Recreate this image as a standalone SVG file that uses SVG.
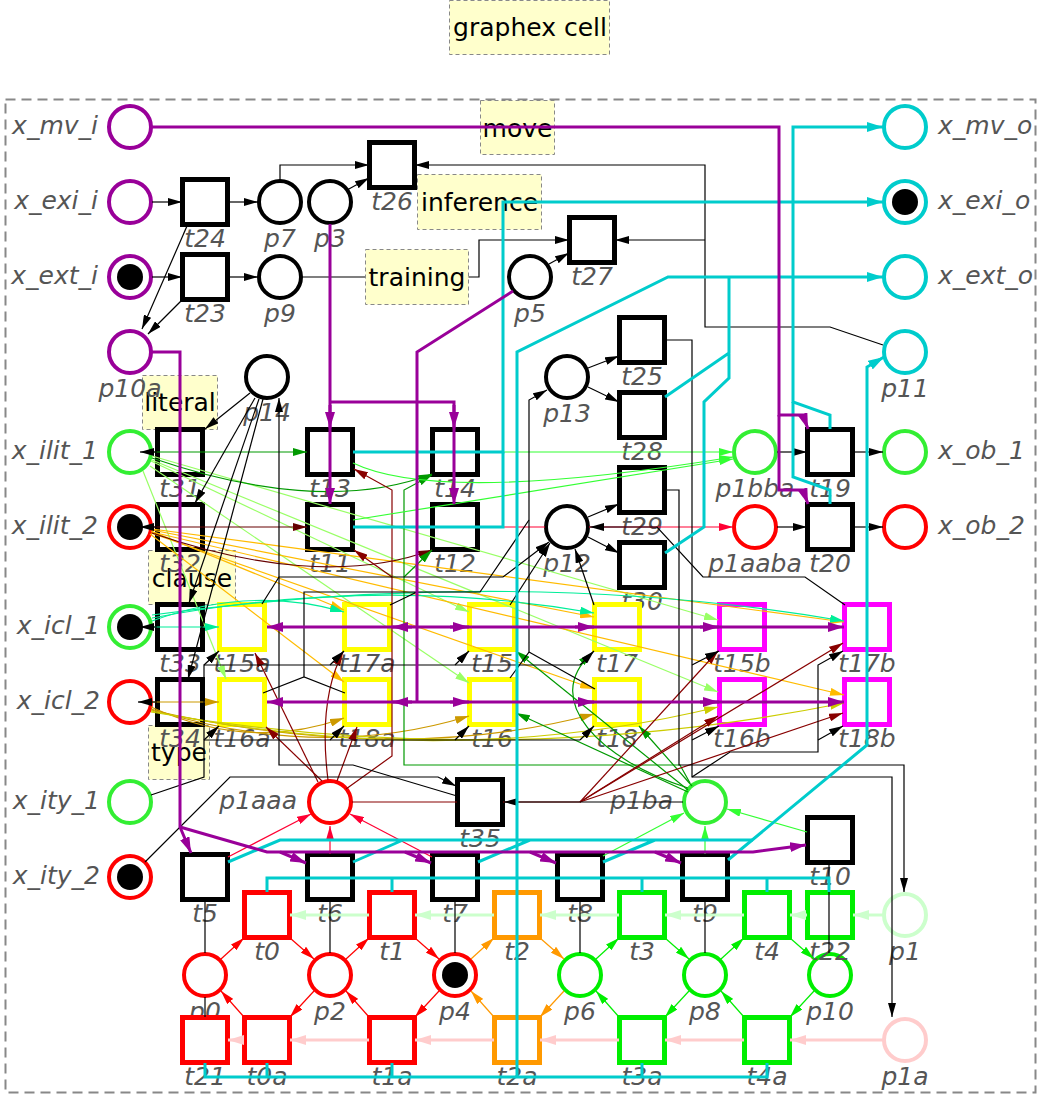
<svg xmlns="http://www.w3.org/2000/svg" width="1041" height="1099" viewBox="0 0 1041 1099">
<style>
.p{fill:#fff;stroke-width:4}
.t{fill:#fff;stroke-width:5}
.tok{fill:#000}
.l{font-family:"DejaVu Sans",sans-serif;font-style:italic;font-size:25px;fill:#555;text-anchor:middle}
.le{text-anchor:end}.ls{text-anchor:start}
.nb rect{fill:#ffffcc;stroke:#888;stroke-width:1;stroke-dasharray:4,3}
.nb text{font-family:"DejaVu Sans",sans-serif;font-size:25px;fill:#000;text-anchor:middle}
.sk{stroke:#000}.spu{stroke:#990099}.scy{stroke:#00cccc}.sgr{stroke:#33ee33}.srd{stroke:#f00}.sg2{stroke:#00ee00}.sor{stroke:#ff9900}.sye{stroke:#ff0}.smg{stroke:#f0f}.spg{stroke:#ccffcc}.spk{stroke:#ffcccc}
#edges path{fill:none;stroke-width:1.2}
#edges .w{stroke-width:3}
.k{stroke:#000;marker-end:url(#mk)}
.pu{stroke:#990099;marker-end:url(#mpu)}
.cy{stroke:#00cccc;marker-end:url(#mcy)}
.dg{stroke:#009900;marker-end:url(#mdg)}
.dr{stroke:#880000;marker-end:url(#mdr)}
.br{stroke:#660000;marker-end:url(#mbr)}
.lg{stroke:#99ff66;marker-end:url(#mlg)}
.or{stroke:#ffbb00;marker-end:url(#mor)}
.te{stroke:#00ee99;marker-end:url(#mte)}
.go{stroke:#cc9900;marker-end:url(#mgo)}
.yl{stroke:#cccc00;marker-end:url(#myl)}
.bg{stroke:#33ff33;marker-end:url(#mbg)}
.cr{stroke:#ff0033;marker-end:url(#mcr)}
.rd{stroke:#ff0000;marker-end:url(#mrd)}
.g2{stroke:#00ee00;marker-end:url(#mg2)}
.o{stroke:#ff9900;marker-end:url(#mo)}
.pg{stroke:#ccffcc;marker-end:url(#mpg)}
.pk{stroke:#ffcccc;marker-end:url(#mpk)}
.na{marker-end:none}
</style>
<defs>
<marker id="mk" viewBox="0 0 14 8" refX="14" refY="4" markerWidth="14" markerHeight="8" markerUnits="userSpaceOnUse" orient="auto"><path d="M0,0L14,4L0,8z" fill="#000"/></marker>
<marker id="mpu" viewBox="0 0 16 10" refX="16" refY="5" markerWidth="16" markerHeight="10" markerUnits="userSpaceOnUse" orient="auto"><path d="M0,0L16,5L0,10z" fill="#990099"/></marker>
<marker id="mcy" viewBox="0 0 16 10" refX="16" refY="5" markerWidth="16" markerHeight="10" markerUnits="userSpaceOnUse" orient="auto"><path d="M0,0L16,5L0,10z" fill="#00cccc"/></marker>
<marker id="mdg" viewBox="0 0 14 8" refX="14" refY="4" markerWidth="14" markerHeight="8" markerUnits="userSpaceOnUse" orient="auto"><path d="M0,0L14,4L0,8z" fill="#009900"/></marker>
<marker id="mdr" viewBox="0 0 14 8" refX="14" refY="4" markerWidth="14" markerHeight="8" markerUnits="userSpaceOnUse" orient="auto"><path d="M0,0L14,4L0,8z" fill="#880000"/></marker>
<marker id="mbr" viewBox="0 0 14 8" refX="14" refY="4" markerWidth="14" markerHeight="8" markerUnits="userSpaceOnUse" orient="auto"><path d="M0,0L14,4L0,8z" fill="#660000"/></marker>
<marker id="mlg" viewBox="0 0 14 8" refX="14" refY="4" markerWidth="14" markerHeight="8" markerUnits="userSpaceOnUse" orient="auto"><path d="M0,0L14,4L0,8z" fill="#99ff66"/></marker>
<marker id="mor" viewBox="0 0 14 8" refX="14" refY="4" markerWidth="14" markerHeight="8" markerUnits="userSpaceOnUse" orient="auto"><path d="M0,0L14,4L0,8z" fill="#ffbb00"/></marker>
<marker id="mte" viewBox="0 0 14 8" refX="14" refY="4" markerWidth="14" markerHeight="8" markerUnits="userSpaceOnUse" orient="auto"><path d="M0,0L14,4L0,8z" fill="#00ee99"/></marker>
<marker id="mgo" viewBox="0 0 14 8" refX="14" refY="4" markerWidth="14" markerHeight="8" markerUnits="userSpaceOnUse" orient="auto"><path d="M0,0L14,4L0,8z" fill="#cc9900"/></marker>
<marker id="myl" viewBox="0 0 14 8" refX="14" refY="4" markerWidth="14" markerHeight="8" markerUnits="userSpaceOnUse" orient="auto"><path d="M0,0L14,4L0,8z" fill="#cccc00"/></marker>
<marker id="mbg" viewBox="0 0 14 8" refX="14" refY="4" markerWidth="14" markerHeight="8" markerUnits="userSpaceOnUse" orient="auto"><path d="M0,0L14,4L0,8z" fill="#33ff33"/></marker>
<marker id="mcr" viewBox="0 0 14 8" refX="14" refY="4" markerWidth="14" markerHeight="8" markerUnits="userSpaceOnUse" orient="auto"><path d="M0,0L14,4L0,8z" fill="#ff0033"/></marker>
<marker id="mrd" viewBox="0 0 14 8" refX="14" refY="4" markerWidth="14" markerHeight="8" markerUnits="userSpaceOnUse" orient="auto"><path d="M0,0L14,4L0,8z" fill="#ff0000"/></marker>
<marker id="mg2" viewBox="0 0 14 8" refX="14" refY="4" markerWidth="14" markerHeight="8" markerUnits="userSpaceOnUse" orient="auto"><path d="M0,0L14,4L0,8z" fill="#00ee00"/></marker>
<marker id="mo" viewBox="0 0 14 8" refX="14" refY="4" markerWidth="14" markerHeight="8" markerUnits="userSpaceOnUse" orient="auto"><path d="M0,0L14,4L0,8z" fill="#ff9900"/></marker>
<marker id="mpg" viewBox="0 0 16 10" refX="16" refY="5" markerWidth="16" markerHeight="10" markerUnits="userSpaceOnUse" orient="auto"><path d="M0,0L16,5L0,10z" fill="#ccffcc"/></marker>
<marker id="mpk" viewBox="0 0 16 10" refX="16" refY="5" markerWidth="16" markerHeight="10" markerUnits="userSpaceOnUse" orient="auto"><path d="M0,0L16,5L0,10z" fill="#ffcccc"/></marker>
</defs>
<rect width="1041" height="1099" fill="#fff"/>
<rect x="5.5" y="99.5" width="1030" height="993" fill="none" stroke="#888" stroke-width="2" stroke-dasharray="10,6"/>
<g class="nb" id="note_graphex"><rect x="449.5" y="0.5" width="160" height="54"/><text x="530" y="36">graphex cell</text></g>
<g class="nb" id="note_move"><rect x="480.5" y="100.5" width="74" height="54"/><text x="517.5" y="137">move</text></g>
<g class="nb" id="note_inference"><rect x="417.5" y="174.5" width="124" height="55"/><text x="479.5" y="211">inference</text></g>
<g class="nb" id="note_literal"><rect x="142.5" y="375.5" width="75" height="54"/><text x="180" y="411">literal</text></g>
<g class="nb" id="note_clause"><rect x="148.5" y="550.5" width="87" height="54"/><text x="192" y="587">clause</text></g>
<g class="nb" id="note_type"><rect x="148.5" y="725.5" width="61" height="54"/><text x="179" y="761">type</text></g>

<g id="nodes">
<g id="x_mv_i"><circle class="p spu" cx="130" cy="127" r="21"/><text class="l le" x="98" y="134">x_mv_i</text></g>
<g id="x_exi_i"><circle class="p spu" cx="130" cy="202" r="21"/><text class="l le" x="98" y="209">x_exi_i</text></g>
<g id="x_ext_i"><circle class="p spu" cx="130" cy="277" r="21"/><circle class="tok" cx="130" cy="277" r="13"/><text class="l le" x="98" y="284">x_ext_i</text></g>
<g id="p10a"><circle class="p spu" cx="130" cy="352" r="21"/><text class="l" x="130" y="397">p10a</text></g>
<g id="x_ilit_1"><circle class="p sgr" cx="130" cy="452" r="21"/><text class="l le" x="98" y="459">x_ilit_1</text></g>
<g id="x_ilit_2"><circle class="p srd" cx="130" cy="527" r="21"/><circle class="tok" cx="130" cy="527" r="13"/><text class="l le" x="98" y="534">x_ilit_2</text></g>
<g id="x_icl_1"><circle class="p sgr" cx="130" cy="627" r="21"/><circle class="tok" cx="130" cy="627" r="13"/><text class="l le" x="100" y="634">x_icl_1</text></g>
<g id="x_icl_2"><circle class="p srd" cx="130" cy="702" r="21"/><text class="l le" x="100" y="709">x_icl_2</text></g>
<g id="x_ity_1"><circle class="p sgr" cx="130" cy="802" r="21"/><text class="l le" x="100" y="809">x_ity_1</text></g>
<g id="x_ity_2"><circle class="p srd" cx="130" cy="877" r="21"/><circle class="tok" cx="130" cy="877" r="13"/><text class="l le" x="100" y="884">x_ity_2</text></g>
<g id="p7"><circle class="p sk" cx="280" cy="202" r="21"/><text class="l" x="280" y="247">p7</text></g>
<g id="p3"><circle class="p sk" cx="330" cy="202" r="21"/><text class="l" x="330" y="247">p3</text></g>
<g id="p9"><circle class="p sk" cx="280" cy="277" r="21"/><text class="l" x="280" y="322">p9</text></g>
<g id="p14"><circle class="p sk" cx="267" cy="377" r="21"/><text class="l" x="267" y="421">p14</text></g>
<g id="p5"><circle class="p sk" cx="530" cy="277" r="21"/><text class="l" x="530" y="322">p5</text></g>
<g id="p13"><circle class="p sk" cx="567" cy="377" r="21"/><text class="l" x="567" y="422">p13</text></g>
<g id="p12"><circle class="p sk" cx="567" cy="527" r="21"/><text class="l" x="567" y="572">p12</text></g>
<g id="x_mv_o"><circle class="p scy" cx="905" cy="127" r="21"/><text class="l ls" x="938" y="134">x_mv_o</text></g>
<g id="x_exi_o"><circle class="p scy" cx="905" cy="202" r="21"/><circle class="tok" cx="905" cy="202" r="13"/><text class="l ls" x="938" y="209">x_exi_o</text></g>
<g id="x_ext_o"><circle class="p scy" cx="905" cy="277" r="21"/><text class="l ls" x="938" y="284">x_ext_o</text></g>
<g id="p11"><circle class="p scy" cx="905" cy="352" r="21"/><text class="l" x="905" y="397">p11</text></g>
<g id="p1bba"><circle class="p sgr" cx="755" cy="452" r="21"/><text class="l" x="755" y="497">p1bba</text></g>
<g id="p1aaba"><circle class="p srd" cx="755" cy="527" r="21"/><text class="l" x="755" y="572">p1aaba</text></g>
<g id="x_ob_1"><circle class="p sgr" cx="905" cy="452" r="21"/><text class="l ls" x="938" y="459">x_ob_1</text></g>
<g id="x_ob_2"><circle class="p srd" cx="905" cy="527" r="21"/><text class="l ls" x="938" y="534">x_ob_2</text></g>
<g id="p1aaa"><circle class="p srd" cx="330" cy="802" r="21"/><text class="l le" x="297" y="809">p1aaa</text></g>
<g id="p1ba"><circle class="p sgr" cx="705" cy="802" r="21"/><text class="l le" x="673" y="809">p1ba</text></g>
<g id="p0"><circle class="p srd" cx="205" cy="975" r="21"/><text class="l" x="205" y="1020">p0</text></g>
<g id="p2"><circle class="p srd" cx="330" cy="975" r="21"/><text class="l" x="330" y="1020">p2</text></g>
<g id="p4"><circle class="p srd" cx="455" cy="975" r="21"/><circle class="tok" cx="455" cy="975" r="13"/><text class="l" x="455" y="1020">p4</text></g>
<g id="p6"><circle class="p sg2" cx="580" cy="975" r="21"/><text class="l" x="580" y="1020">p6</text></g>
<g id="p8"><circle class="p sg2" cx="705" cy="975" r="21"/><text class="l" x="705" y="1020">p8</text></g>
<g id="p10"><circle class="p sg2" cx="830" cy="975" r="21"/><text class="l" x="830" y="1020">p10</text></g>
<g id="p1"><circle class="p spg" cx="905" cy="915" r="21"/><text class="l" x="905" y="960">p1</text></g>
<g id="p1a"><circle class="p spk" cx="905" cy="1040" r="21"/><text class="l" x="905" y="1085">p1a</text></g>

<g id="t26"><rect class="t sk" x="369.5" y="142.5" width="45" height="45"/><text class="l" x="392" y="210">t26</text></g>
<g id="t24"><rect class="t sk" x="182.5" y="179.5" width="45" height="45"/><text class="l" x="205" y="247">t24</text></g>
<g id="t23"><rect class="t sk" x="182.5" y="254.5" width="45" height="45"/><text class="l" x="205" y="322">t23</text></g>
<g id="t27"><rect class="t sk" x="569.5" y="217.5" width="45" height="45"/><text class="l" x="592" y="285">t27</text></g>
<g id="t25"><rect class="t sk" x="619.5" y="317.5" width="45" height="45"/><text class="l" x="642" y="385">t25</text></g>
<g id="t28"><rect class="t sk" x="619.5" y="392.5" width="45" height="45"/><text class="l" x="642" y="460">t28</text></g>
<g id="t29"><rect class="t sk" x="619.5" y="467.5" width="45" height="45"/><text class="l" x="642" y="535">t29</text></g>
<g id="t30"><rect class="t sk" x="619.5" y="542.5" width="45" height="45"/><text class="l" x="642" y="610">t30</text></g>
<g id="t31"><rect class="t sk" x="157.5" y="429.5" width="45" height="45"/><text class="l" x="180" y="497">t31</text></g>
<g id="t32"><rect class="t sk" x="157.5" y="504.5" width="45" height="45"/><text class="l" x="180" y="572">t32</text></g>
<g id="t33"><rect class="t sk" x="157.5" y="604.5" width="45" height="45"/><text class="l" x="180" y="672">t33</text></g>
<g id="t34"><rect class="t sk" x="157.5" y="679.5" width="45" height="45"/><text class="l" x="180" y="747">t34</text></g>
<g id="t13"><rect class="t sk" x="307.5" y="429.5" width="45" height="45"/><text class="l" x="330" y="497">t13</text></g>
<g id="t14"><rect class="t sk" x="432.5" y="429.5" width="45" height="45"/><text class="l" x="455" y="497">t14</text></g>
<g id="t11"><rect class="t sk" x="307.5" y="504.5" width="45" height="45"/><text class="l" x="330" y="572">t11</text></g>
<g id="t12"><rect class="t sk" x="432.5" y="504.5" width="45" height="45"/><text class="l" x="455" y="572">t12</text></g>
<g id="t19"><rect class="t sk" x="807.5" y="429.5" width="45" height="45"/><text class="l" x="830" y="497">t19</text></g>
<g id="t20"><rect class="t sk" x="807.5" y="504.5" width="45" height="45"/><text class="l" x="830" y="572">t20</text></g>
<g id="t15a"><rect class="t sye" x="219.5" y="604.5" width="45" height="45"/><text class="l" x="242" y="672">t15a</text></g>
<g id="t17a"><rect class="t sye" x="344.5" y="604.5" width="45" height="45"/><text class="l" x="367" y="672">t17a</text></g>
<g id="t15"><rect class="t sye" x="469.5" y="604.5" width="45" height="45"/><text class="l" x="492" y="672">t15</text></g>
<g id="t17"><rect class="t sye" x="594.5" y="604.5" width="45" height="45"/><text class="l" x="617" y="672">t17</text></g>
<g id="t15b"><rect class="t smg" x="719.5" y="604.5" width="45" height="45"/><text class="l" x="742" y="672">t15b</text></g>
<g id="t17b"><rect class="t smg" x="844.5" y="604.5" width="45" height="45"/><text class="l" x="867" y="672">t17b</text></g>
<g id="t16a"><rect class="t sye" x="219.5" y="679.5" width="45" height="45"/><text class="l" x="242" y="747">t16a</text></g>
<g id="t18a"><rect class="t sye" x="344.5" y="679.5" width="45" height="45"/><text class="l" x="367" y="747">t18a</text></g>
<g id="t16"><rect class="t sye" x="469.5" y="679.5" width="45" height="45"/><text class="l" x="492" y="747">t16</text></g>
<g id="t18"><rect class="t sye" x="594.5" y="679.5" width="45" height="45"/><text class="l" x="617" y="747">t18</text></g>
<g id="t16b"><rect class="t smg" x="719.5" y="679.5" width="45" height="45"/><text class="l" x="742" y="747">t16b</text></g>
<g id="t18b"><rect class="t smg" x="844.5" y="679.5" width="45" height="45"/><text class="l" x="867" y="747">t18b</text></g>
<g id="t35"><rect class="t sk" x="457.5" y="779.5" width="45" height="45"/><text class="l" x="480" y="847">t35</text></g>
<g id="t10"><rect class="t sk" x="807.5" y="817.5" width="45" height="45"/><text class="l" x="830" y="885">t10</text></g>
<g id="t5"><rect class="t sk" x="182.5" y="854.5" width="45" height="45"/><text class="l" x="205" y="922">t5</text></g>
<g id="t6"><rect class="t sk" x="307.5" y="854.5" width="45" height="45"/><text class="l" x="330" y="922">t6</text></g>
<g id="t7"><rect class="t sk" x="432.5" y="854.5" width="45" height="45"/><text class="l" x="455" y="922">t7</text></g>
<g id="t8"><rect class="t sk" x="557.5" y="854.5" width="45" height="45"/><text class="l" x="580" y="922">t8</text></g>
<g id="t9"><rect class="t sk" x="682.5" y="854.5" width="45" height="45"/><text class="l" x="705" y="922">t9</text></g>
<g id="t0"><rect class="t srd" x="244.5" y="892.5" width="45" height="45"/><text class="l" x="267" y="960">t0</text></g>
<g id="t1"><rect class="t srd" x="369.5" y="892.5" width="45" height="45"/><text class="l" x="392" y="960">t1</text></g>
<g id="t2"><rect class="t sor" x="494.5" y="892.5" width="45" height="45"/><text class="l" x="517" y="960">t2</text></g>
<g id="t3"><rect class="t sg2" x="619.5" y="892.5" width="45" height="45"/><text class="l" x="642" y="960">t3</text></g>
<g id="t4"><rect class="t sg2" x="744.5" y="892.5" width="45" height="45"/><text class="l" x="767" y="960">t4</text></g>
<g id="t22"><rect class="t sg2" x="807.5" y="892.5" width="45" height="45"/><text class="l" x="830" y="960">t22</text></g>
<g id="t21"><rect class="t srd" x="182.5" y="1017.5" width="45" height="45"/><text class="l" x="205" y="1085">t21</text></g>
<g id="t0a"><rect class="t srd" x="244.5" y="1017.5" width="45" height="45"/><text class="l" x="267" y="1085">t0a</text></g>
<g id="t1a"><rect class="t srd" x="369.5" y="1017.5" width="45" height="45"/><text class="l" x="392" y="1085">t1a</text></g>
<g id="t2a"><rect class="t sor" x="494.5" y="1017.5" width="45" height="45"/><text class="l" x="517" y="1085">t2a</text></g>
<g id="t3a"><rect class="t sg2" x="619.5" y="1017.5" width="45" height="45"/><text class="l" x="642" y="1085">t3a</text></g>
<g id="t4a"><rect class="t sg2" x="744.5" y="1017.5" width="45" height="45"/><text class="l" x="767" y="1085">t4a</text></g>
</g>

<g id="edges">
<path class="pg w" d="M883,915H853"/><path class="pg w" d="M807,915H790"/><path class="pg w" d="M744,915H665"/><path class="pg w" d="M619,915H540"/><path class="pg w" d="M494,915H415"/><path class="pg w" d="M369,915H290"/>
<path class="pk w" d="M883,1040H790"/><path class="pk w" d="M744,1040H665"/><path class="pk w" d="M619,1040H540"/><path class="pk w" d="M494,1040H415"/><path class="pk w" d="M369,1040H290"/><path class="pk w" d="M244,1040H228"/>
<path class="rd" d="M221,959L244,938"/><path class="rd" d="M290,938L314,959"/><path class="rd" d="M346,959L369,938"/><path class="rd" d="M415,938L439,959"/>
<path class="rd" d="M244,1017L221,991"/><path class="rd" d="M314,991L290,1017"/><path class="rd" d="M369,1017L346,991"/><path class="rd" d="M439,991L415,1017"/>
<path class="o" d="M471,959L494,938"/><path class="o" d="M540,938L564,959"/><path class="o" d="M494,1017L471,991"/><path class="o" d="M564,991L540,1017"/>
<path class="g2" d="M596,959L619,938"/><path class="g2" d="M665,938L689,959"/><path class="g2" d="M721,959L744,938"/><path class="g2" d="M790,938L814,959"/>
<path class="g2" d="M619,1017L596,991"/><path class="g2" d="M689,991L665,1017"/><path class="g2" d="M744,1017L721,991"/><path class="g2" d="M814,991L790,1017"/>
<path class="k na" d="M205,900V953M205,997V1017M330,900V953M455,900V953M580,900V953M705,900V953M829,863V953"/>
<path class="lg" d="M143,471L226,679"/><path class="lg" d="M151,461L469,612"/><path class="lg" d="M150,466L469,683"/><path class="lg" d="M152,456L718,620"/><path class="lg" d="M152,460L718,692"/>
<path class="or" d="M151,531L344,610"/><path class="or" d="M150,534L344,682"/><path class="or" d="M152,530L594,617"/><path class="or" d="M151,533L594,689"/><path class="or" d="M152,529L844,622"/><path class="or" d="M152,532L844,695"/>
<path class="te" d="M152,627H219"/><path class="te" d="M152,621Q250,585 344,612"/><path class="te" d="M152,618Q380,575 594,613"/><path class="te" d="M152,615Q520,565 844,621"/>
<path class="go" d="M152,702H219"/><path class="go" d="M151,707Q250,752 344,718"/><path class="go" d="M151,709Q320,762 469,716"/><path class="go" d="M151,710Q400,766 594,714"/><path class="yl" d="M151,711Q450,772 718,707"/><path class="yl" d="M151,712Q500,772 844,703"/>
<path class="dg" d="M152,452H307"/><path class="dg" d="M152,458C250,492 350,505 432,474"/>
<path class="br" d="M152,527H307"/><path class="br" d="M152,533C250,567 350,580 432,550"/>
<path class="dg" d="M690,783L680,765H404V490L432,475"/><path class="dg" d="M404,577L432,550"/>
<path class="dg" d="M688,790L516,651"/><path class="dg" d="M688,792L516,713"/><path class="dg" d="M688,788C600,760 540,700 592,653"/><path class="dg" d="M692,786L639,726"/>
<path class="dr na" d="M352,802H457M503,802H580"/>
<path class="dr" d="M580,802L718,651"/><path class="dr" d="M580,802L718,716"/><path class="dr" d="M580,802L843,643"/><path class="dr" d="M580,802L843,713"/>
<path class="dr" d="M318,782L255,653"/><path class="dr" d="M322,781L266,727"/><path class="dr" d="M328,780Q318,700 343,652"/><path class="dr" d="M337,781L357,727"/>
<path class="dr" d="M346,789L392,756V490L354,469"/><path class="dr" d="M392,577L354,550"/>
<path class="bg" d="M353,452H733"/><path class="bg" d="M353,463Q440,505 733,457"/><path class="bg" d="M353,520L733,459"/>
<path class="bg" d="M603,856L684,813"/><path class="bg" d="M705,854V826"/><path class="bg" d="M807,832L727,809"/>
<path class="cr na" d="M478,527H545"/><path class="cr" d="M589,527H733"/>
<path class="cr" d="M228,857L311,814"/><path class="cr" d="M330,854V826"/><path class="cr" d="M432,857L350,814"/>
<path class="k" d="M152,202H182"/><path class="k" d="M228,202H258"/><path class="k" d="M152,277H182"/><path class="k" d="M228,277H258"/>
<path class="k" d="M187,226L142,329"/><path class="k" d="M182,300L148,334"/>
<path class="k" d="M280,180V165H369"/><path class="k" d="M347,190L369,178"/>
<path class="k" d="M883,345L830,327H705V165H415"/><path class="k" d="M705,240H615"/>
<path class="k" d="M302,277H479V240H569"/><path class="k" d="M549,264L569,253"/>
<path class="k" d="M250,393L205,429"/><path class="k" d="M255,398L195,503"/><path class="k" d="M259,399L189,603"/><path class="k" d="M263,399L188,679"/>
<path class="k" d="M157,452H140"/><path class="k" d="M157,527H140"/><path class="k" d="M157,627H140"/><path class="k" d="M157,702H138"/>
<path class="k" d="M588,368L619,356"/><path class="k" d="M588,387L619,402"/><path class="k" d="M588,517L619,504"/><path class="k" d="M588,537L619,553"/>
<path class="k" d="M457,796L353,765H279V398"/>
<path class="k" d="M145,862L230,777H438L456,786"/>
<path class="k na" d="M151,795L204,777V665H580M204,740H580"/>
<path class="k" d="M204,665L219,651"/><path class="k" d="M330,665L344,651"/><path class="k" d="M455,665L469,651"/><path class="k" d="M580,665L594,651"/>
<path class="k" d="M204,740L219,726"/><path class="k" d="M330,740L344,726"/><path class="k" d="M455,740L469,726"/><path class="k" d="M580,740L594,726"/>
<path class="k" d="M262,604L279,577H503L549,542"/>
<path class="k na" d="M263,693L304,677L345,693M304,677V592H480L529,520M390,605L417,592"/>
<path class="k" d="M510,678L529,652V400L547,390"/><path class="k na" d="M595,689L529,652"/>
<path class="k" d="M510,605L550,543"/><path class="k" d="M594,605L575,549"/>
<path class="k" d="M845,605L805,577H703L657,527H590"/>
<path class="k" d="M665,340H692V777H892V1017"/><path class="k" d="M692,665L719,651"/><path class="k" d="M692,740L719,726"/>
<path class="k" d="M692,777L730,752H818V665L843,651"/><path class="k" d="M818,740L843,726"/>
<path class="k" d="M665,490H679V765H904V892"/>
<path class="k" d="M683,802H504"/>
<path class="k" d="M777,452H807"/><path class="k" d="M853,452H883"/><path class="k" d="M777,527H807"/><path class="k" d="M853,527H883"/>
<path class="cy w" d="M830,429V415L793,402V127H883"/><path class="cy w na" d="M830,504V490L793,477V402"/>
<path class="cy w" d="M353,452H503V202H883"/><path class="cy w na" d="M353,527H503V452"/>
<path class="cy w na" d="M665,397L729,353V277M665,553L704,527V402L729,378V353"/>
<path class="cy w" d="M517,1077V352L668,277H883"/>
<path class="cy w na" d="M205,1063V1077H767V1063M267,1063V1077M392,1063V1077M642,1063V1077"/>
<path class="cy w na" d="M267,892V878H829V892M392,892V878M642,892V878M767,892V878"/>
<path class="cy w na" d="M228,862L280,840H753M353,862L403,840M478,862L530,840M603,862L655,840"/>
<path class="cy w" d="M728,860L867,745V367L884,357"/>
<path class="pu w" d="M152,127H779V415H803L808,429"/><path class="pu w" d="M779,415V490H803L808,504"/>
<path class="pu w" d="M330,224V504"/><path class="pu w" d="M330,405V428"/>
<path class="pu w" d="M330,402H454V504"/><path class="pu w" d="M454,405V428"/>
<path class="pu w na" d="M513,291L417,352V702"/>
<path class="pu w" d="M417,627H267"/><path class="pu w" d="M412,627H392"/><path class="pu w" d="M417,627H844"/>
<path class="pu w" d="M450,627H469"/><path class="pu w" d="M575,627H594"/><path class="pu w" d="M700,627H719"/>
<path class="pu w" d="M417,702H267"/><path class="pu w" d="M412,702H392"/><path class="pu w" d="M417,702H844"/>
<path class="pu w" d="M450,702H469"/><path class="pu w" d="M575,702H594"/><path class="pu w" d="M700,702H719"/>
<path class="pu w" d="M152,352H180V827L191,853"/><path class="pu w" d="M180,827L267,852H753L806,845"/>
<path class="pu w" d="M280,852L306,863"/><path class="pu w" d="M405,852L431,863"/><path class="pu w" d="M530,852L556,863"/><path class="pu w" d="M655,852L681,863"/>
</g>
<g class="nb" id="note_training"><rect x="365.5" y="249.5" width="103" height="55"/><text x="417" y="286">training</text></g>
</svg>
